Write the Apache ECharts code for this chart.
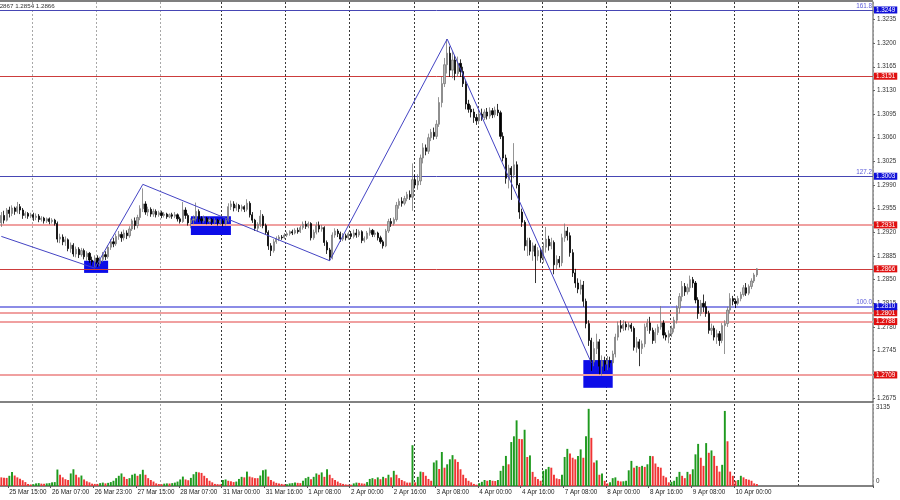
<!DOCTYPE html>
<html>
<head>
<meta charset="utf-8">
<script src="https://cdn.jsdelivr.net/npm/echarts@6/dist/echarts.min.js"></script>
<style>
  html, body { margin: 0; padding: 0; background: #fff; }
  #main { width: 900px; height: 500px; }
</style>
</head>
<body>
<div id="main"></div>
<script>
// trading days shown (name, first hour, last hour)
const days = [['25 Mar', 12, 23], ['26 Mar', 0, 23], ['27 Mar', 0, 23], ['28 Mar', 0, 22], ['31 Mar', 0, 23],
  ['1 Apr', 0, 23], ['2 Apr', 0, 23], ['3 Apr', 0, 23], ['4 Apr', 0, 23], ['7 Apr', 0, 23],
  ['8 Apr', 0, 23], ['9 Apr', 0, 23], ['10 Apr', 0, 23], ['11 Apr', 0, 23]];

// H1 candles per day: [open, close, low, high]
const mar25 = [[1.2934,1.2945,1.2928,1.2950],[1.2945,1.2938,1.2933,1.2952],[1.2938,1.2953,1.2936,1.2956],[1.2953,1.2948,1.2942,1.2958],
  [1.2948,1.2956,1.2944,1.2960],[1.2956,1.2951,1.2946,1.2958],[1.2951,1.2958,1.2948,1.2965],[1.2958,1.2953,1.2947,1.2962],
  [1.2953,1.2945,1.2940,1.2956],[1.2945,1.2948,1.2941,1.2951],[1.2948,1.2944,1.2940,1.2950],[1.2944,1.2946,1.2941,1.2949]];
const mar26 = [[1.2946,1.2942,1.2937,1.2949],[1.2942,1.2944,1.2938,1.2948],[1.2944,1.2939,1.2935,1.2947],[1.2939,1.2941,1.2936,1.2944],
  [1.2941,1.2937,1.2933,1.2943],[1.2937,1.2940,1.2934,1.2942],[1.2940,1.2936,1.2932,1.2942],[1.2936,1.2938,1.2933,1.2941],
  [1.2938,1.2933,1.2930,1.2940],[1.2933,1.2910,1.2905,1.2936],[1.2910,1.2913,1.2904,1.2918],[1.2913,1.2906,1.2901,1.2917],
  [1.2906,1.2909,1.2900,1.2914],[1.2909,1.2896,1.2892,1.2911],[1.2896,1.2901,1.2890,1.2905],[1.2901,1.2888,1.2884,1.2904],
  [1.2888,1.2895,1.2883,1.2899],[1.2895,1.2887,1.2882,1.2898],[1.2887,1.2893,1.2884,1.2897],[1.2893,1.2884,1.2880,1.2896],
  [1.2884,1.2889,1.2878,1.2892],[1.2889,1.2879,1.2875,1.2891],[1.2879,1.2876,1.2871,1.2884],[1.2876,1.2882,1.2869,1.2886]];
const mar27 = [[1.2882,1.2874,1.2869,1.2886],[1.2874,1.2880,1.2870,1.2884],[1.2880,1.2887,1.2876,1.2891],[1.2887,1.2884,1.2879,1.2892],
  [1.2884,1.2898,1.2881,1.2901],[1.2898,1.2906,1.2894,1.2910],[1.2906,1.2903,1.2898,1.2912],[1.2903,1.2914,1.2900,1.2918],
  [1.2914,1.2917,1.2909,1.2922],[1.2917,1.2912,1.2906,1.2921],[1.2912,1.2919,1.2908,1.2924],[1.2919,1.2915,1.2910,1.2923],
  [1.2915,1.2925,1.2912,1.2929],[1.2925,1.2937,1.2922,1.2940],[1.2937,1.2930,1.2924,1.2942],[1.2930,1.2942,1.2926,1.2946],
  [1.2942,1.2955,1.2938,1.2960],[1.2955,1.2962,1.2950,1.2985],[1.2962,1.2950,1.2946,1.2966],[1.2950,1.2954,1.2944,1.2958],
  [1.2954,1.2947,1.2943,1.2957],[1.2947,1.2951,1.2943,1.2955],[1.2951,1.2946,1.2942,1.2954],[1.2946,1.2949,1.2943,1.2952]];
const mar28 = [[1.2949,1.2945,1.2941,1.2952],[1.2945,1.2947,1.2942,1.2950],[1.2947,1.2943,1.2940,1.2949],[1.2943,1.2946,1.2941,1.2948],
  [1.2946,1.2944,1.2940,1.2949],[1.2944,1.2946,1.2941,1.2950],[1.2946,1.2940,1.2936,1.2948],[1.2940,1.2936,1.2933,1.2943],
  [1.2936,1.2953,1.2934,1.2965],[1.2953,1.2945,1.2940,1.2957],[1.2945,1.2934,1.2930,1.2948],[1.2934,1.2938,1.2926,1.2941],
  [1.2938,1.2940,1.2932,1.2945],[1.2940,1.2951,1.2936,1.2964],[1.2951,1.2940,1.2935,1.2954],[1.2940,1.2937,1.2933,1.2944],
  [1.2937,1.2941,1.2934,1.2945],[1.2941,1.2936,1.2932,1.2943],[1.2936,1.2939,1.2933,1.2942],[1.2939,1.2935,1.2931,1.2941],
  [1.2935,1.2938,1.2932,1.2941],[1.2938,1.2934,1.2930,1.2940],[1.2934,1.2937,1.2931,1.2940]];
const mar31 = [[1.2937,1.2933,1.2929,1.2940],[1.2933,1.2938,1.2930,1.2941],[1.2938,1.2958,1.2935,1.2963],[1.2958,1.2962,1.2953,1.2967],
  [1.2962,1.2956,1.2951,1.2966],[1.2956,1.2960,1.2952,1.2964],[1.2960,1.2955,1.2950,1.2962],[1.2955,1.2958,1.2951,1.2961],
  [1.2958,1.2954,1.2950,1.2960],[1.2954,1.2963,1.2951,1.2969],[1.2963,1.2946,1.2942,1.2966],[1.2946,1.2938,1.2934,1.2950],
  [1.2938,1.2926,1.2922,1.2940],[1.2926,1.2932,1.2921,1.2935],[1.2932,1.2944,1.2928,1.2953],[1.2944,1.2930,1.2926,1.2947],
  [1.2930,1.2920,1.2916,1.2933],[1.2920,1.2900,1.2894,1.2923],[1.2900,1.2893,1.2885,1.2904],[1.2893,1.2906,1.2890,1.2910],
  [1.2906,1.2910,1.2903,1.2914],[1.2910,1.2913,1.2907,1.2916],[1.2913,1.2912,1.2909,1.2916],[1.2912,1.2916,1.2910,1.2919]];
const apr1 = [[1.2916,1.2918,1.2913,1.2921],[1.2918,1.2921,1.2915,1.2923],[1.2921,1.2919,1.2916,1.2924],[1.2919,1.2923,1.2917,1.2926],
  [1.2923,1.2921,1.2918,1.2927],[1.2921,1.2927,1.2919,1.2930],[1.2927,1.2932,1.2924,1.2936],[1.2932,1.2929,1.2925,1.2937],
  [1.2929,1.2933,1.2926,1.2936],[1.2933,1.2912,1.2908,1.2935],[1.2912,1.2920,1.2909,1.2924],[1.2920,1.2930,1.2917,1.2935],
  [1.2930,1.2925,1.2920,1.2936],[1.2925,1.2927,1.2921,1.2931],[1.2927,1.2905,1.2900,1.2929],[1.2905,1.2894,1.2888,1.2908],
  [1.2894,1.2883,1.2878,1.2897],[1.2883,1.2916,1.2880,1.2920],[1.2916,1.2922,1.2912,1.2926],[1.2922,1.2918,1.2913,1.2925],
  [1.2918,1.2910,1.2906,1.2921],[1.2910,1.2915,1.2907,1.2919],[1.2915,1.2912,1.2908,1.2918],[1.2912,1.2918,1.2909,1.2921]];
const apr2 = [[1.2918,1.2914,1.2910,1.2922],[1.2914,1.2919,1.2911,1.2924],[1.2919,1.2916,1.2912,1.2925],[1.2916,1.2921,1.2913,1.2924],
  [1.2921,1.2908,1.2904,1.2923],[1.2908,1.2911,1.2905,1.2914],[1.2911,1.2919,1.2909,1.2922],[1.2919,1.2923,1.2915,1.2927],
  [1.2923,1.2917,1.2913,1.2925],[1.2917,1.2919,1.2913,1.2923],[1.2919,1.2912,1.2908,1.2921],[1.2912,1.2906,1.2903,1.2915],
  [1.2906,1.2900,1.2896,1.2909],[1.2900,1.2922,1.2898,1.2925],[1.2922,1.2936,1.2919,1.2940],[1.2936,1.2933,1.2928,1.2941],
  [1.2933,1.2939,1.2930,1.2942],[1.2939,1.2960,1.2936,1.2965],[1.2960,1.2966,1.2955,1.2970],[1.2966,1.2963,1.2958,1.2972],
  [1.2963,1.2970,1.2960,1.2974],[1.2970,1.2976,1.2966,1.2980],[1.2976,1.2972,1.2968,1.2982],[1.2972,1.2998,1.2952,1.3022]];
const apr3 = [[1.2998,1.2990,1.2985,1.3005],[1.2990,1.2996,1.2983,1.3006],[1.2996,1.3030,1.2990,1.3035],[1.3030,1.3045,1.3022,1.3052],
  [1.3045,1.3040,1.3034,1.3050],[1.3040,1.3060,1.3036,1.3066],[1.3060,1.3068,1.3055,1.3073],[1.3068,1.3062,1.3057,1.3075],
  [1.3062,1.3080,1.3058,1.3086],[1.3080,1.3112,1.3076,1.3120],[1.3112,1.3140,1.3105,1.3150],[1.3140,1.3168,1.3135,1.3178],
  [1.3168,1.3185,1.3155,1.3206],[1.3185,1.3160,1.3150,1.3195],[1.3160,1.3175,1.3148,1.3188],[1.3175,1.3155,1.3145,1.3182],
  [1.3155,1.3170,1.3150,1.3180],[1.3170,1.3158,1.3150,1.3176],[1.3158,1.3140,1.3135,1.3165],[1.3140,1.3110,1.3102,1.3145],
  [1.3110,1.3102,1.3097,1.3116],[1.3102,1.3098,1.3090,1.3108],[1.3098,1.3090,1.3082,1.3103],[1.3090,1.3085,1.3079,1.3095]];
const apr4 = [[1.3085,1.3095,1.3080,1.3100],[1.3095,1.3090,1.3085,1.3103],[1.3090,1.3098,1.3086,1.3102],[1.3098,1.3092,1.3087,1.3104],
  [1.3092,1.3100,1.3088,1.3105],[1.3100,1.3094,1.3089,1.3104],[1.3094,1.3101,1.3090,1.3106],[1.3101,1.3097,1.3092,1.3110],
  [1.3097,1.3062,1.3058,1.3100],[1.3062,1.3030,1.3025,1.3068],[1.3030,1.3000,1.2992,1.3035],[1.3000,1.3015,1.2985,1.3020],
  [1.3015,1.3005,1.2968,1.3018],[1.3005,1.3020,1.3000,1.3052],[1.3020,1.2990,1.2985,1.3025],[1.2990,1.2950,1.2940,1.2993],
  [1.2950,1.2935,1.2928,1.2955],[1.2935,1.2900,1.2893,1.2938],[1.2900,1.2908,1.2885,1.2912],[1.2908,1.2892,1.2886,1.2912],
  [1.2892,1.2900,1.2878,1.2905],[1.2900,1.2885,1.2845,1.2903],[1.2885,1.2893,1.2878,1.2898],[1.2893,1.2882,1.2875,1.2897]];
const apr7 = [[1.2882,1.2898,1.2875,1.2905],[1.2898,1.2910,1.2890,1.2928],[1.2910,1.2900,1.2893,1.2915],[1.2900,1.2905,1.2895,1.2912],
  [1.2905,1.2872,1.2858,1.2908],[1.2872,1.2880,1.2865,1.2886],[1.2880,1.2875,1.2868,1.2885],[1.2875,1.2912,1.2870,1.2918],
  [1.2912,1.2922,1.2906,1.2933],[1.2922,1.2915,1.2908,1.2928],[1.2915,1.2890,1.2884,1.2920],[1.2890,1.2860,1.2854,1.2895],
  [1.2860,1.2845,1.2838,1.2866],[1.2845,1.2836,1.2830,1.2852],[1.2836,1.2842,1.2828,1.2850],[1.2842,1.2818,1.2810,1.2848],
  [1.2818,1.2785,1.2778,1.2822],[1.2785,1.2760,1.2752,1.2790],[1.2760,1.2728,1.2715,1.2764],[1.2728,1.2748,1.2722,1.2758],
  [1.2748,1.2758,1.2740,1.2770],[1.2758,1.2722,1.2710,1.2762],[1.2722,1.2730,1.2708,1.2738],[1.2730,1.2725,1.2715,1.2736]];
const apr8 = [[1.2725,1.2730,1.2716,1.2737],[1.2730,1.2727,1.2720,1.2736],[1.2727,1.2740,1.2722,1.2745],[1.2740,1.2765,1.2735,1.2770],
  [1.2765,1.2782,1.2760,1.2788],[1.2782,1.2778,1.2772,1.2790],[1.2778,1.2784,1.2774,1.2790],[1.2784,1.2780,1.2775,1.2788],
  [1.2780,1.2783,1.2775,1.2787],[1.2783,1.2778,1.2773,1.2786],[1.2778,1.2750,1.2745,1.2781],[1.2750,1.2758,1.2742,1.2765],
  [1.2758,1.2748,1.2722,1.2762],[1.2748,1.2755,1.2740,1.2760],[1.2755,1.2780,1.2750,1.2785],[1.2780,1.2786,1.2774,1.2792],
  [1.2786,1.2775,1.2770,1.2795],[1.2775,1.2760,1.2755,1.2779],[1.2760,1.2772,1.2756,1.2778],[1.2772,1.2780,1.2768,1.2784],
  [1.2780,1.2786,1.2776,1.2811],[1.2786,1.2768,1.2763,1.2790],[1.2768,1.2765,1.2760,1.2772],[1.2765,1.2770,1.2756,1.2775]];
const apr9 = [[1.2770,1.2778,1.2765,1.2782],[1.2778,1.2790,1.2772,1.2795],[1.2790,1.2808,1.2785,1.2812],[1.2808,1.2825,1.2800,1.2830],
  [1.2825,1.2840,1.2818,1.2848],[1.2840,1.2832,1.2826,1.2845],[1.2832,1.2838,1.2828,1.2844],[1.2838,1.2850,1.2832,1.2856],
  [1.2850,1.2845,1.2838,1.2854],[1.2845,1.2820,1.2815,1.2848],[1.2820,1.2800,1.2792,1.2824],[1.2800,1.2815,1.2796,1.2820],
  [1.2815,1.2810,1.2802,1.2828],[1.2810,1.2800,1.2795,1.2818],[1.2800,1.2775,1.2770,1.2804],[1.2775,1.2778,1.2768,1.2785],
  [1.2778,1.2765,1.2760,1.2782],[1.2765,1.2770,1.2755,1.2776],[1.2770,1.2760,1.2752,1.2774],[1.2760,1.2782,1.2756,1.2786],
  [1.2782,1.2785,1.2740,1.2790],[1.2785,1.2805,1.2780,1.2810],[1.2805,1.2822,1.2800,1.2830],[1.2822,1.2818,1.2812,1.2826]];
const apr10 = [[1.2818,1.2815,1.2808,1.2822],[1.2815,1.2822,1.2812,1.2826],[1.2822,1.2828,1.2818,1.2832],[1.2828,1.2838,1.2825,1.2842],
  [1.2838,1.2830,1.2826,1.2845],[1.2830,1.2840,1.2827,1.2843],[1.2840,1.2848,1.2836,1.2852],[1.2848,1.2857,1.2845,1.2860],
  [1.2857,1.2866,1.2854,1.2867]];

// tick volumes per day
const volMar25 = [330, 320, 310, 390, 540, 400, 330, 280, 220, 150, 80, 60];
const volMar26 = [70, 100, 110, 90, 85, 100, 110, 140, 150, 630, 430, 330, 260, 230, 480, 640, 430, 330, 400, 250, 180, 140, 90, 80];
const volMar27 = [80, 110, 130, 100, 120, 150, 200, 300, 390, 480, 350, 270, 300, 430, 470, 390, 450, 620, 430, 300, 230, 170, 100, 75];
const volMar28 = [70, 90, 100, 95, 110, 130, 170, 250, 360, 250, 220, 310, 450, 540, 520, 500, 390, 300, 200, 140, 80, 70, 60];
const volMar31 = [230, 250, 200, 180, 150, 170, 270, 350, 330, 550, 360, 330, 300, 300, 400, 600, 630, 360, 230, 170, 120, 100, 80, 60];
const volApr1 = [70, 100, 110, 130, 120, 110, 200, 300, 350, 260, 350, 480, 430, 520, 350, 640, 430, 300, 230, 170, 110, 80, 60, 50];
const volApr2 = [50, 100, 130, 120, 100, 90, 150, 270, 300, 260, 330, 260, 350, 300, 430, 330, 580, 430, 300, 230, 180, 130, 130, 1560];
const volApr3 = [140, 350, 550, 530, 390, 270, 200, 900, 980, 650, 1300, 700, 830, 1020, 1180, 1020, 920, 640, 430, 300, 200, 140, 80, 50];
const volApr4 = [110, 160, 230, 200, 230, 200, 190, 230, 580, 770, 1150, 830, 1680, 1900, 2510, 1800, 1790, 2150, 1110, 1170, 540, 350, 265, 200];
const volApr7 = [580, 640, 730, 700, 430, 290, 265, 430, 1110, 1420, 1240, 1080, 1020, 1150, 1400, 1080, 1900, 2950, 1840, 900, 980, 430, 480, 200];
const volApr8 = [100, 140, 300, 330, 200, 175, 180, 200, 600, 960, 700, 770, 730, 770, 730, 830, 1150, 1140, 860, 730, 700, 390, 330, 140];
const volApr9 = [160, 200, 350, 540, 390, 300, 540, 450, 640, 1210, 1610, 1080, 770, 1640, 1270, 1360, 1150, 770, 550, 810, 2870, 1710, 550, 390];
const volApr10 = [200, 230, 390, 330, 265, 240, 200, 100, 75];

// axis tick labels
const priceTicks = [1.2675, 1.2710, 1.2745, 1.2780, 1.2815, 1.2850, 1.2885, 1.2920, 1.2955, 1.2990,
  1.3025, 1.3060, 1.3095, 1.3130, 1.3165, 1.3200, 1.3235];
const volumeTicks = [0, 3135];

// horizontal levels
const fiboLevels = [1.3249, 1.3003, 1.2810];
const fiboNames = ['161.8', '127.2', '100.0'];
const redLevels = [1.3151, 1.2931, 1.2866, 1.2801, 1.2788, 1.2709];

// zigzag drawn on the chart: [bar index, price]
const zigzag = [[0, 1.2914], [35, 1.2867], [53, 1.2991], [123, 1.2878], [167, 1.3206], [221, 1.2727]];
// blue boxes: [from bar, to bar, top price, bottom price]
const boxes = [[31, 40, 1.2878, 1.2860], [71, 86, 1.2944, 1.2916], [218, 229, 1.2731, 1.2690]];

const candles = [].concat(mar25, mar26, mar27, mar28, mar31, apr1, apr2, apr3, apr4, apr7, apr8, apr9, apr10);
const volumes = [].concat(volMar25, volMar26, volMar27, volMar28, volMar31, volApr1, volApr2, volApr3, volApr4,
  volApr7, volApr8, volApr9, volApr10);

const slots = 327;
const times = [];
days.forEach(function (d) {
  for (let h = d[1]; h <= d[2]; h++) {
    times.push(d[0] + ' ' + (h < 10 ? '0' + h : h) + ':00');
  }
});
while (times.length < slots) times.push('');

const FONT = 'Liberation Sans';
const labelAt = function (index) {
  return index < candles.length && (index - 3) % 16 === 0;
};
const dayStart = function (index, value) {
  return value.slice(-5) === '00:00';
};
const gridColors = ['#a8a8a8', '#a8a8a8', '#a8a8a8', '#3a3a3a', '#3a3a3a', '#3a3a3a', '#3a3a3a',
  '#3a3a3a', '#3a3a3a', '#3a3a3a', '#3a3a3a', '#3a3a3a', '#3a3a3a'];

function priceTag(bg) {
  return {
    show: true,
    position: 'end',
    distance: 1,
    formatter: function (p) { return Number(p.value).toFixed(4); },
    color: '#fff',
    backgroundColor: bg,
    fontFamily: FONT,
    fontSize: 6.3,
    padding: [1, 2, 0, 2]
  };
}

// red levels: 1.3151 and 1.2866 thin, others wide and pale
const redLines = redLevels.map(function (v, i) {
  const thin = i === 0 || i === 2;
  return {
    yAxis: v,
    lineStyle: thin ? { color: '#cc3c3c', width: 1, type: 'solid' } : { color: '#f0a0a0', width: 2, type: 'solid' },
    label: priceTag('#e01010')
  };
});

const blueLines = [];
fiboLevels.forEach(function (v, i) {
  blueLines.push({
    yAxis: v,
    lineStyle: i === 2 ? { color: '#8c8ce6', width: 2, type: 'solid' } : { color: '#4646b4', width: 1, type: 'solid' },
    label: priceTag('#1010d8')
  });
  // fibo ratio text on the same level, its own line invisible
  blueLines.push({
    yAxis: v,
    name: fiboNames[i],
    lineStyle: { color: 'rgba(0,0,0,0)', width: 1 },
    label: {
      show: true, position: 'insideEndTop', formatter: '{b}', distance: 1,
      color: '#5a5ad8', fontFamily: FONT, fontSize: 6.3
    }
  });
});

const boxAreas = boxes.map(function (b) {
  return [{ xAxis: b[0], yAxis: b[2] }, { xAxis: b[1], yAxis: b[3] }];
});

const volumeData = volumes.map(function (v, i) {
  const up = i > 0 && v > volumes[i - 1];
  return { value: v, itemStyle: { color: up ? '#1e9a1e' : '#f03434' } };
});

const myChart = echarts.init(document.getElementById('main'));
const option = {
  animation: false,
  backgroundColor: '#fff',
  textStyle: { fontFamily: FONT },
  grid: [
    { left: 0, right: 27, top: 2, height: 400 },
    { left: 0, right: 27, top: 404, height: 82 }
  ],
  xAxis: [
    {
      type: 'category', gridIndex: 0, data: times, boundaryGap: true,
      axisLine: { show: true, lineStyle: { color: '#5a5a5a', width: 1.5 } },
      axisTick: { show: false },
      axisLabel: { show: false },
      splitLine: { show: true, interval: dayStart, lineStyle: { type: [2, 2], color: gridColors, width: 1 } }
    },
    {
      type: 'category', gridIndex: 1, data: times, boundaryGap: true,
      axisLine: { show: true, lineStyle: { color: '#5a5a5a', width: 1.5 } },
      axisTick: { show: true, interval: labelAt, length: 2, lineStyle: { color: '#555' } },
      axisLabel: {
        interval: labelAt, align: 'left', margin: 3,
        fontFamily: FONT, fontSize: 6.3, color: '#222'
      },
      splitLine: { show: true, interval: dayStart, lineStyle: { type: [2, 2], color: gridColors, width: 1 } }
    }
  ],
  yAxis: [
    {
      type: 'value', gridIndex: 0, position: 'right',
      min: 1.2669, max: 1.32608,
      splitLine: { show: false },
      axisLine: { show: true, lineStyle: { color: '#8a8a8a', width: 1.5 } },
      axisTick: { show: true, length: 2, customValues: priceTicks, lineStyle: { color: '#666' } },
      axisLabel: {
        customValues: priceTicks, margin: 4,
        formatter: function (v) { return v.toFixed(4); },
        fontFamily: FONT, fontSize: 6.3, color: '#333'
      }
    },
    {
      type: 'value', gridIndex: 1, position: 'right',
      min: 0, max: 3135,
      splitLine: { show: false },
      axisLine: { show: true, lineStyle: { color: '#8a8a8a', width: 1.5 } },
      axisTick: { show: false },
      axisLabel: {
        customValues: volumeTicks, margin: 3,
        formatter: function (v) { return v === 0 ? '{b|0}' : '{t|' + v + '}'; },
        rich: {
          t: { fontFamily: FONT, fontSize: 6.3, color: '#333', padding: [6, 0, 0, 0] },
          b: { fontFamily: FONT, fontSize: 6.3, color: '#333', padding: [0, 0, 9, 0] }
        }
      }
    }
  ],
  graphic: [
    { type: 'line', shape: { x1: 0, y1: 1, x2: 873, y2: 1 }, style: { stroke: '#555', lineWidth: 1.5 } },
    {
      type: 'text', x: -5.5, y: 3,
      style: { text: '1.2867 1.2854 1.2866', font: '6.2px "Liberation Sans"', fill: '#333' }
    }
  ],
  series: [
    {
      name: 'zigzag', type: 'line', xAxisIndex: 0, yAxisIndex: 0, z: 4,
      data: zigzag, symbol: 'none', silent: true,
      lineStyle: { color: '#4444c4', width: 1 },
      markArea: {
        silent: true,
        z: 1,
        itemStyle: { color: '#0c0ce8', opacity: 1 },
        data: boxAreas
      },
      markLine: {
        silent: true,
        z: 2,
        precision: 4,
        symbol: ['none', 'none'],
        lineStyle: { color: '#cc3c3c', width: 1, type: 'solid' },
        data: redLines
      }
    },
    {
      name: 'GBPUSD', type: 'candlestick', xAxisIndex: 0, yAxisIndex: 0, z: 3,
      data: candles, barWidth: '62%',
      itemStyle: {
        color: '#b6b6b6', color0: '#000',
        borderColor: '#7a7a7a', borderColor0: '#000', borderWidth: 0.8
      },
      markLine: {
        silent: true,
        z: 2,
        precision: 4,
        symbol: ['none', 'none'],
        lineStyle: { color: '#4646b4', width: 1, type: 'solid' },
        data: blueLines
      }
    },
    {
      name: 'Volumes', type: 'bar', xAxisIndex: 1, yAxisIndex: 1,
      data: volumeData, barWidth: '72%'
    }
  ]
};
myChart.setOption(option);
</script>
</body>
</html>
